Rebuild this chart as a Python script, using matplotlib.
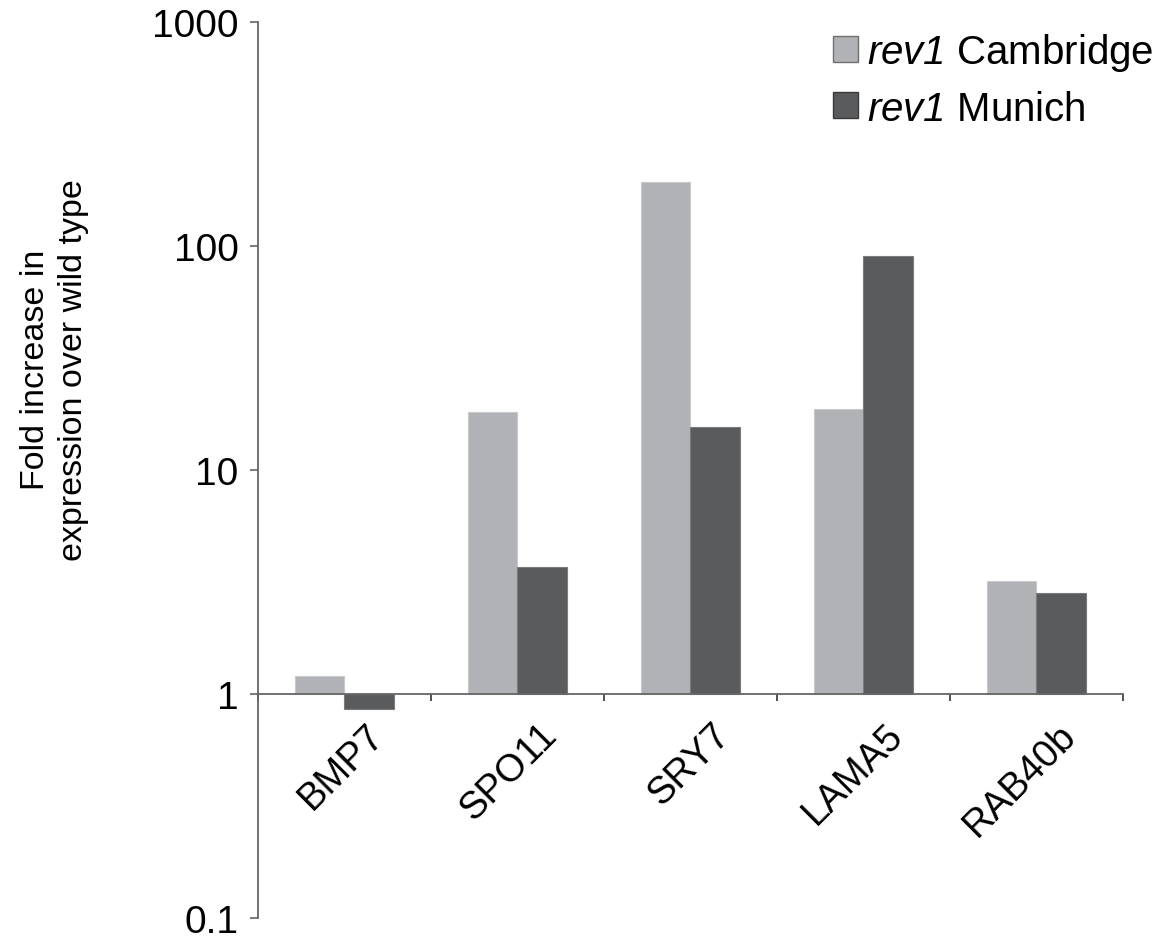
import numpy as np
import matplotlib
matplotlib.use('Agg')
import matplotlib.pyplot as plt
from matplotlib.patches import Patch

plt.rcParams['font.family'] = ['Liberation Sans', 'DejaVu Sans']
# mathtext only used for the italic strain name in the legend
plt.rcParams['mathtext.fontset'] = 'custom'
plt.rcParams['mathtext.it'] = 'Liberation Sans:italic'
plt.rcParams['mathtext.rm'] = 'Liberation Sans:italic'

# Fold change over wild type (baseline = 1)
genes = ['BMP7', 'SPO11', 'SRY7', 'LAMA5', 'RAB40b']
cambridge = [1.2, 18.2, 193, 18.7, 3.21]
munich = [0.86, 3.68, 15.5, 89.9, 2.82]
y_ticks = [0.1, 1, 10, 100, 1000]
y_ticklabels = ['0.1', '1', '10', '100', '1000']

light = '#b1b2b5'
dark = '#5a5b5d'
axis_col = '#666666'

fig = plt.figure(figsize=(11.69, 9.45), dpi=100)
ax = fig.add_axes([0.2207, 0.0272, 0.7399, 0.9488])

x = np.arange(len(genes))
w = 0.285
base = 1.0
ax.bar(x - w / 2, np.array(cambridge) - base, bottom=base, width=w,
       color=light, edgecolor='#c8c9cb', linewidth=0.8, zorder=2)
ax.bar(x + w / 2, np.array(munich) - base, bottom=base, width=w,
       color=dark, edgecolor='#7a7b7d', linewidth=0.8, zorder=2)

ax.set_yscale('log')
ax.set_ylim(0.1, 1000)
ax.set_xlim(-0.5, len(genes) - 0.5)
ax.set_yticks(y_ticks)
ax.set_yticklabels(y_ticklabels, fontsize=28)
ax.yaxis.set_minor_locator(matplotlib.ticker.NullLocator())
ax.tick_params(axis='y', direction='out', length=6, width=1.2,
               color=axis_col, pad=8)

# category axis sits at fold change 1
ax.spines['bottom'].set_position(('data', base))
ax.spines['bottom'].set_color(axis_col)
ax.spines['bottom'].set_linewidth(1.3)
ax.spines['bottom'].set_zorder(3)
ax.spines['left'].set_color(axis_col)
ax.spines['left'].set_linewidth(1.3)
ax.spines['top'].set_visible(False)
ax.spines['right'].set_visible(False)

ax.set_xticks(np.arange(len(genes) + 1) - 0.5)
ax.set_xticklabels([])
ax.tick_params(axis='x', which='major', direction='out', length=5,
               width=1.2, color='#333333')
ax.set_xticks(x, minor=True)
ax.set_xticklabels(genes, minor=True, fontsize=27.5, rotation=45,
                   ha='right', va='top')
ax.tick_params(axis='x', which='minor', length=0, pad=16)
offset = matplotlib.transforms.ScaledTranslation(47 / 100, 0, fig.dpi_scale_trans)
for lbl in ax.get_xticklabels(minor=True):
    lbl.set_transform(lbl.get_transform() + offset)

ax.set_ylabel('Fold increase in\nexpression over wild type', fontsize=24.5,
              linespacing=1.3)
ax.yaxis.set_label_coords(-0.195, 0.613)

handles = [Patch(facecolor=light, edgecolor='#6f6f6f', linewidth=1.0),
           Patch(facecolor=dark, edgecolor='#3a3a3a', linewidth=1.0)]
labels = [r'$rev1$ Cambridge', r'$rev1$ Munich']
fig.legend(handles, labels, loc='upper right', bbox_to_anchor=(1.004, 0.987),
           frameon=False, fontsize=29, handlelength=0.62, handleheight=0.62,
           handletextpad=0.22, labelspacing=0.4, borderpad=0)

fig.savefig('out.png', dpi=100)
